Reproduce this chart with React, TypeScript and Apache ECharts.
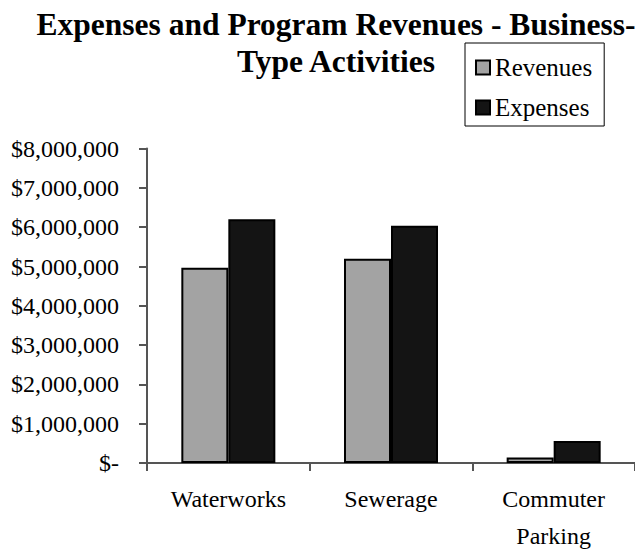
import React, { useEffect, useRef } from "react";
import * as echarts from "echarts";

const categories = ["Waterworks", "Sewerage", "Commuter\nParking"];
const revenues = [4970000, 5200000, 140000];
const expenses = [6200000, 6040000, 560000];
const yTicks = { min: 0, max: 8000000, interval: 1000000 };
const titleText = "Expenses and Program Revenues - Business-\nType Activities";

const FONT = "'Liberation Serif', 'Times New Roman', serif";

export default function App() {
  const ref = useRef<HTMLDivElement>(null);
  useEffect(() => {
    document.body.style.margin = "0";
    const chart = echarts.init(ref.current!, null, { renderer: "svg" });
    chart.setOption({
      animation: false,
      backgroundColor: "#ffffff",
      title: {
        text: titleText,
        left: 336,
        top: 6,
        padding: 0,
        textAlign: "center",
        textStyle: {
          fontFamily: FONT,
          fontWeight: "bold",
          fontSize: 31.5,
          lineHeight: 37,
          color: "#000",
        },
      },
      legend: {
        orient: "vertical",
        left: 465,
        top: 43,
        padding: [12, 12, 6, 10],
        borderColor: "#000",
        borderWidth: 1,
        itemWidth: 14,
        itemHeight: 14,
        itemGap: 15,
        icon: "rect",
        textStyle: {
          fontFamily: FONT,
          fontSize: 25,
          lineHeight: 25,
          color: "#000",
        },
        data: ["Revenues", "Expenses"],
      },
      grid: {
        left: 147,
        top: 148.6,
        width: 496.5,
        height: 323.4,
        containLabel: false,
      },
      xAxis: {
        type: "category",
        data: categories,
        boundaryGap: true,
        axisLine: { show: true, lineStyle: { color: "#555", width: 2 } },
        axisTick: { show: true, length: 8, lineStyle: { color: "#555", width: 2 } },
        axisLabel: {
          fontFamily: FONT,
          fontSize: 24,
          lineHeight: 37,
          color: "#000",
          margin: 17,
        },
        splitLine: { show: false },
      },
      yAxis: {
        type: "value",
        min: yTicks.min,
        max: yTicks.max,
        interval: yTicks.interval,
        axisLine: { show: true, lineStyle: { color: "#555", width: 2 } },
        axisTick: { show: true, length: 8, lineStyle: { color: "#555", width: 2 } },
        splitLine: { show: false },
        axisLabel: {
          fontFamily: FONT,
          fontSize: 24,
          color: "#000",
          margin: 28,
          formatter: (v: number) =>
            v === 0 ? "$-" : "$" + v.toLocaleString("en-US"),
        },
      },
      series: [
        {
          name: "Revenues",
          type: "bar",
          data: revenues,
          barWidth: 47,
          barGap: "0%",
          itemStyle: { color: "#a3a3a3", borderColor: "#000", borderWidth: 2 },
        },
        {
          name: "Expenses",
          type: "bar",
          data: expenses,
          barWidth: 47,
          barGap: "0%",
          itemStyle: { color: "#141414", borderColor: "#000", borderWidth: 2 },
        },
      ],
    });
    return () => chart.dispose();
  }, []);
  return <div ref={ref} style={{ width: 635, height: 554 }} />;
}
